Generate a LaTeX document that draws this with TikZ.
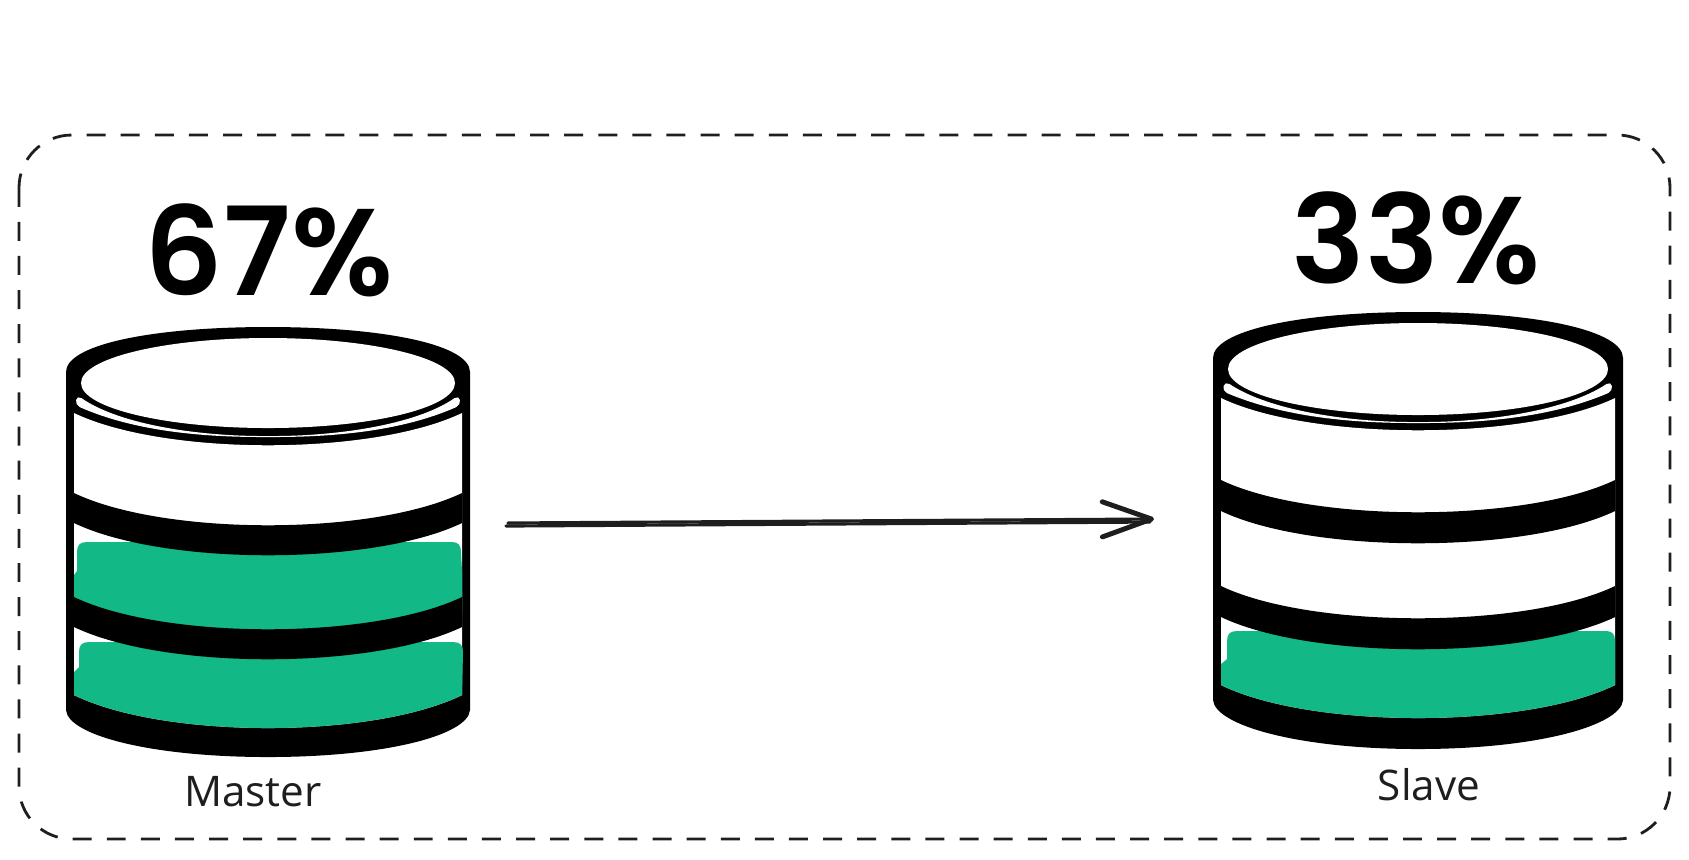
\documentclass[tikz,border=0pt]{standalone}
\usepackage{fontspec}
\setmainfont{Open Sans}
\newfontfamily\pctfont{Poppins SemiBold}
\usetikzlibrary{arrows.meta}
\definecolor{dbgreen}{HTML}{12B886}
\definecolor{inkgray}{HTML}{1E1E1E}
\tikzset{
  frameline/.style={draw=inkgray, line width=0.8pt, dash pattern=on 5.4pt off 4.3pt, rounded corners=15pt},
  pct/.style={font=\fontsize{35}{35}\pctfont, text=black, inner sep=0pt},
  dblabel/.style={font=\fontsize{12}{12}\selectfont, text=inkgray, inner sep=0pt},
  strand/.style={draw=inkgray, line width=0.9pt, line cap=round},
}
\begin{document}
\begin{tikzpicture}[x=0.01cm, y=-0.01cm]
\useasboundingbox (0,0) rectangle (1689,859);

\draw[frameline] (19,135) rectangle (1670,839);

% master
\fill (66,372) .. controls (66,345) and (150,327) .. (268,327) .. controls (386,327) and (470,345) .. (470,372)
  -- (470,710) .. controls (468,735) and (386,757) .. (268,757) .. controls (150,757) and (68,735) .. (66,710) -- cycle;
\fill[white] (268,383) ellipse [x radius=187, y radius=45];
\fill[white, rounded corners=1.5pt] (77,395) .. controls (120,425) and (200,436) .. (268,436) .. controls (336,436) and (416,425) .. (459,395)
  -- (461,405) .. controls (400,432) and (330,437) .. (268,437) .. controls (206,437) and (136,432) .. (75,405) -- cycle;
\fill[white] (74,413) .. controls (164,456) and (372,456) .. (462,413) -- (462,695) .. controls (372,739) and (164,739) .. (74,695) -- cycle;
\fill[dbgreen] (74,612) -- (74,575) -- (77,571) -- (77,552) .. controls (77,545) and (80,542) .. (87,542) -- (452,542) .. controls (458,542) and (461,545) .. (461,552)
  -- (462,571) -- (462,612) .. controls (372,655) and (164,655) .. (74,612) -- cycle;
\fill[dbgreen] (74,695) -- (74,672) -- (79,667) -- (79,652) .. controls (79,645) and (82,642) .. (89,642) -- (453,642) .. controls (460,642) and (463,645) .. (463,652)
  -- (462,695) .. controls (372,739) and (164,739) .. (74,695) -- cycle;
\foreach \a in {493,597}
  \fill (74,\a) .. controls (164,\a+43) and (372,\a+43) .. (462,\a) -- (462,\a+30) .. controls (372,\a+73) and (164,\a+73) .. (74,\a+30) -- cycle;

% slave
\fill (1213,358) .. controls (1213,331) and (1297,312) .. (1418,312) .. controls (1539,312) and (1623,331) .. (1623,358)
  -- (1623,700) .. controls (1621,725) and (1539,749) .. (1418,749) .. controls (1297,749) and (1215,725) .. (1213,700) -- cycle;
\fill[white] (1418,369) ellipse [x radius=190, y radius=46];
\fill[white, rounded corners=1.5pt] (1225,381) .. controls (1270,411) and (1350,422) .. (1418,422) .. controls (1486,422) and (1566,411) .. (1611,381)
  -- (1613,391) .. controls (1550,418) and (1480,423) .. (1418,423) .. controls (1356,423) and (1286,418) .. (1222,391) -- cycle;
\fill[white] (1221,398) .. controls (1311,441) and (1525,441) .. (1615,398) -- (1615,685) .. controls (1525,729) and (1311,729) .. (1221,685) -- cycle;
\fill[dbgreen] (1221,685) -- (1221,664) -- (1227,659) -- (1227,641) .. controls (1227,634) and (1230,631) .. (1237,631) -- (1606,631) .. controls (1612,631) and (1615,634) .. (1615,641)
  -- (1615,685) .. controls (1525,729) and (1311,729) .. (1221,685) -- cycle;
\foreach \a in {480,586}
  \fill (1221,\a) .. controls (1311,\a+43) and (1525,\a+43) .. (1615,\a) -- (1615,\a+31) .. controls (1525,\a+74) and (1311,\a+74) .. (1221,\a+31) -- cycle;

\node[pct] (masterpct) at (269,250) {67\%};
\node[pct] (slavepct) at (1416,238) {33\%};
\node[dblabel] (masterlabel) at (253,792) {Master};
\node[dblabel] (slavelabel) at (1429,785) {Slave};

\coordinate (arrowstart) at (508,523);
\coordinate (arrowstartb) at (506,526);
\coordinate (arrowend) at (1154,519);
\coordinate (arrowendb) at (1150,522);
\draw[strand] (arrowstartb) -- (arrowendb);
\draw[strand, -{Straight Barb[length=14pt, width=10pt, line width=1.4pt, round]}] (arrowstart) -- (arrowend);

\end{tikzpicture}
\end{document}
